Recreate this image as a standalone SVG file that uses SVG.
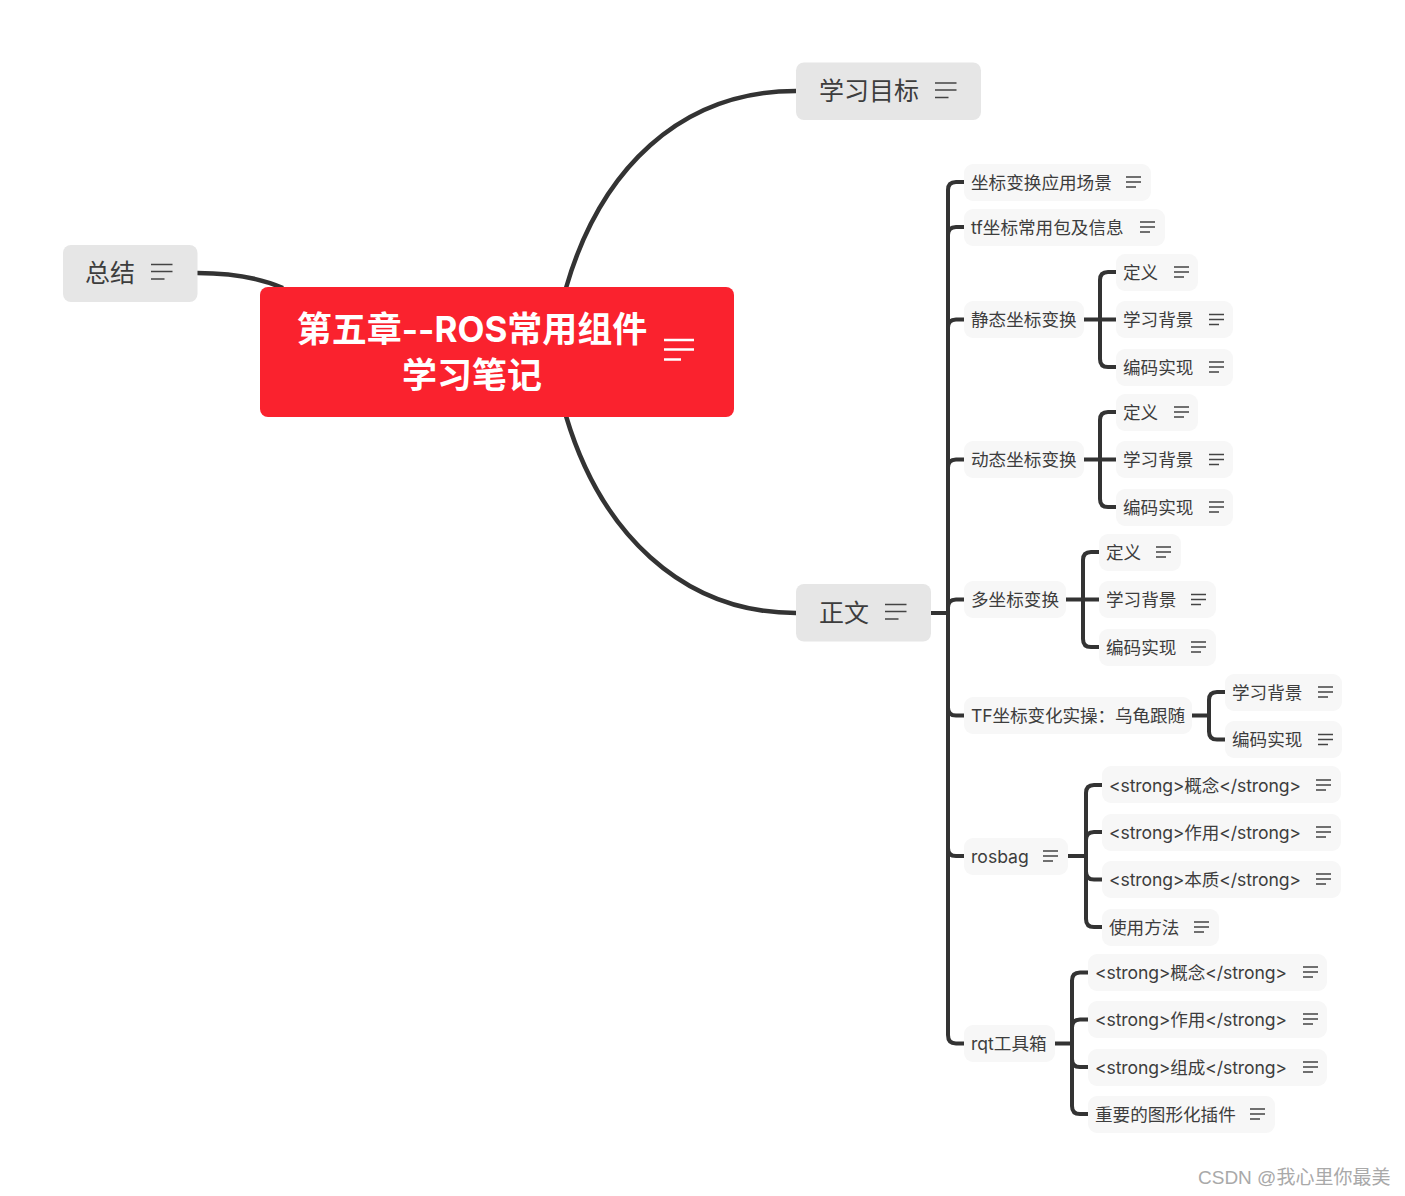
<svg xmlns="http://www.w3.org/2000/svg" width="1405" height="1196" viewBox="0 0 1405 1196">
<style>
text{font-family:"Inter","Noto Sans CJK SC",sans-serif;fill:#3d3d3d;dominant-baseline:central}
.leaf rect{fill:#f7f7f7}
.leaf text{font-size:17.6px}
.main rect{fill:#e6e6e6}
.main text{font-size:25px}
.ic{fill:none;stroke:#444;stroke-width:1.400}
.conn{fill:none;stroke:#333;stroke-linecap:butt}
.thick{stroke-width:4.500}
.thin{stroke-width:4}
.wm{font-family:"Liberation Sans","Noto Sans CJK SC",sans-serif;font-size:19px;fill:#a9a9a9}
.rt{font-size:35px;font-weight:700;fill:#fff;text-anchor:middle}
</style>
<defs>
<path id="i" class="ic" d="M0 -5H15M0 0H15M0 5H10"/>
<path id="im" class="ic" d="M0 -7.500H21.500M0 -0.500H21.500M0 7H13.500"/>
</defs>
<rect width="1405" height="1196" fill="#fff"/>
<g id="connectors" class="conn">
<path class="thick" d="M566 288C600 170 680 91 796 91"/>
<path class="thick" d="M566 416C600 530 680 613 796 613"/>
<path class="thick" d="M197 273C230 273 260 278 283 288"/>
<path class="thin" d="M931 613H948M964 182H956Q948 182 948 190V1035Q948 1043.500 956 1043.500H964M948 235Q948 227 956 227H964M948 327.500Q948 319.500 956 319.500H964M948 467.500Q948 459.500 956 459.500H964M948 607.500Q948 599.500 956 599.500H964M948 707.500Q948 715.500 956 715.500H964M948 848Q948 856 956 856H964"/>
<path class="thin" d="M1084 319.500H1116M1116 272H1108Q1100 272 1100 280V359Q1100 367 1108 367H1116"/>
<path class="thin" d="M1084 459.500H1116M1116 412H1108Q1100 412 1100 420V499Q1100 507 1108 507H1116"/>
<path class="thin" d="M1066 599.500H1099M1099 552H1091Q1083 552 1083 560V639Q1083 647 1091 647H1099"/>
<path class="thin" d="M1192 715.500H1209M1225 692H1217Q1209 692 1209 700V731.500Q1209 739.500 1217 739.500H1225"/>
<path class="thin" d="M1068 856H1085M1102 785H1094Q1086 785 1086 793V919Q1086 927 1094 927H1102M1086 840Q1086 832 1094 832H1102M1086 871.500Q1086 879.500 1094 879.500H1102"/>
<path class="thin" d="M1055 1043.500H1071M1088 972.500H1080Q1072 972.500 1072 980.500V1106Q1072 1114 1080 1114H1088M1072 1027.500Q1072 1019.500 1080 1019.500H1088M1072 1059Q1072 1067 1080 1067H1088"/>
</g>
<g id="root"><rect x="260" y="287" width="474" height="130" rx="8" fill="#fa222e"/>
<text class="rt" x="472" y="328.500">第五章--ROS常用组件</text>
<text class="rt" x="472" y="374.500">学习笔记</text>
<path d="M664 340H694M664 349.500H694M664 359.500H681" fill="none" stroke="#fff" stroke-width="2.600"/></g>
<g id="n-goal" class="main"><rect x="796" y="62.500" width="185" height="57.500" rx="8"/><text x="819" y="91">学习目标</text><use href="#im" x="935" y="90.500"/></g>
<g id="n-body" class="main"><rect x="796" y="584" width="135" height="57.500" rx="8"/><text x="819" y="613">正文</text><use href="#im" x="885" y="612"/></g>
<g id="n-sum" class="main"><rect x="63" y="245" width="134.500" height="57" rx="8"/><text x="85" y="273">总结</text><use href="#im" x="151" y="272"/></g>
<g id="a1" class="leaf"><rect x="964" y="164" width="187" height="37" rx="9"/><text x="971" y="182.500">坐标变换应用场景</text><use href="#i" x="1126" y="182"/></g>
<g id="a2" class="leaf"><rect x="964" y="209" width="201" height="37" rx="9"/><text x="971" y="227.500">tf坐标常用包及信息</text><use href="#i" x="1140" y="227"/></g>
<g id="a3" class="leaf"><rect x="964" y="301" width="120" height="37" rx="9"/><text x="971" y="319.500">静态坐标变换</text></g>
<g id="a31" class="leaf"><rect x="1116" y="254" width="82" height="37" rx="9"/><text x="1123" y="272.500">定义</text><use href="#i" x="1174" y="272"/></g>
<g id="a32" class="leaf"><rect x="1116" y="301" width="117" height="37" rx="9"/><text x="1123" y="319.500">学习背景</text><use href="#i" x="1209" y="319.500"/></g>
<g id="a33" class="leaf"><rect x="1116" y="349" width="117" height="37" rx="9"/><text x="1123" y="367.500">编码实现</text><use href="#i" x="1209" y="367"/></g>
<g id="a4" class="leaf"><rect x="964" y="441" width="120" height="37" rx="9"/><text x="971" y="459.500">动态坐标变换</text></g>
<g id="a41" class="leaf"><rect x="1116" y="394" width="82" height="37" rx="9"/><text x="1123" y="412.500">定义</text><use href="#i" x="1174" y="412"/></g>
<g id="a42" class="leaf"><rect x="1116" y="441" width="117" height="37" rx="9"/><text x="1123" y="459.500">学习背景</text><use href="#i" x="1209" y="459.500"/></g>
<g id="a43" class="leaf"><rect x="1116" y="489" width="117" height="37" rx="9"/><text x="1123" y="507.500">编码实现</text><use href="#i" x="1209" y="507"/></g>
<g id="a5" class="leaf"><rect x="964" y="581" width="102" height="37" rx="9"/><text x="971" y="599.500">多坐标变换</text></g>
<g id="a51" class="leaf"><rect x="1099" y="534" width="82" height="37" rx="9"/><text x="1106" y="552.500">定义</text><use href="#i" x="1156" y="552"/></g>
<g id="a52" class="leaf"><rect x="1099" y="581" width="117" height="37" rx="9"/><text x="1106" y="599.500">学习背景</text><use href="#i" x="1191" y="599.500"/></g>
<g id="a53" class="leaf"><rect x="1099" y="629" width="117" height="37" rx="9"/><text x="1106" y="647.500">编码实现</text><use href="#i" x="1191" y="647"/></g>
<g id="a6" class="leaf"><rect x="964" y="697" width="228" height="37" rx="9"/><text x="971" y="715.500" textLength="214">TF坐标变化实操：乌龟跟随</text></g>
<g id="a61" class="leaf"><rect x="1225" y="674" width="117" height="37" rx="9"/><text x="1232" y="692.500">学习背景</text><use href="#i" x="1318" y="692"/></g>
<g id="a62" class="leaf"><rect x="1225" y="721" width="117" height="37" rx="9"/><text x="1232" y="739.500">编码实现</text><use href="#i" x="1318" y="739.500"/></g>
<g id="a7" class="leaf"><rect x="964" y="838" width="104" height="37" rx="9"/><text x="971" y="856.500">rosbag</text><use href="#i" x="1043" y="856"/></g>
<g id="a71" class="leaf"><rect x="1102" y="766" width="239" height="37" rx="9"/><text x="1109" y="785" textLength="192">&lt;strong&gt;概念&lt;/strong&gt;</text><use href="#i" x="1316" y="785"/></g>
<g id="a72" class="leaf"><rect x="1102" y="814" width="239" height="37" rx="9"/><text x="1109" y="832.500" textLength="192">&lt;strong&gt;作用&lt;/strong&gt;</text><use href="#i" x="1316" y="832"/></g>
<g id="a73" class="leaf"><rect x="1102" y="861" width="239" height="37" rx="9"/><text x="1109" y="879.500" textLength="192">&lt;strong&gt;本质&lt;/strong&gt;</text><use href="#i" x="1316" y="879"/></g>
<g id="a74" class="leaf"><rect x="1102" y="909" width="117" height="37" rx="9"/><text x="1109" y="927.500">使用方法</text><use href="#i" x="1194" y="927"/></g>
<g id="a8" class="leaf"><rect x="964" y="1025" width="91" height="37" rx="9"/><text x="971" y="1043.500">rqt工具箱</text></g>
<g id="a81" class="leaf"><rect x="1088" y="954" width="239" height="37" rx="9"/><text x="1095" y="972.500" textLength="192">&lt;strong&gt;概念&lt;/strong&gt;</text><use href="#i" x="1303" y="972"/></g>
<g id="a82" class="leaf"><rect x="1088" y="1001" width="239" height="37" rx="9"/><text x="1095" y="1019.500" textLength="192">&lt;strong&gt;作用&lt;/strong&gt;</text><use href="#i" x="1303" y="1019"/></g>
<g id="a83" class="leaf"><rect x="1088" y="1049" width="239" height="37" rx="9"/><text x="1095" y="1067.500" textLength="192">&lt;strong&gt;组成&lt;/strong&gt;</text><use href="#i" x="1303" y="1067"/></g>
<g id="a84" class="leaf"><rect x="1088" y="1096" width="187" height="37" rx="9"/><text x="1095" y="1114.500">重要的图形化插件</text><use href="#i" x="1250" y="1114"/></g>
<text class="wm" x="1198" y="1177">CSDN @我心里你最美</text>
</svg>
